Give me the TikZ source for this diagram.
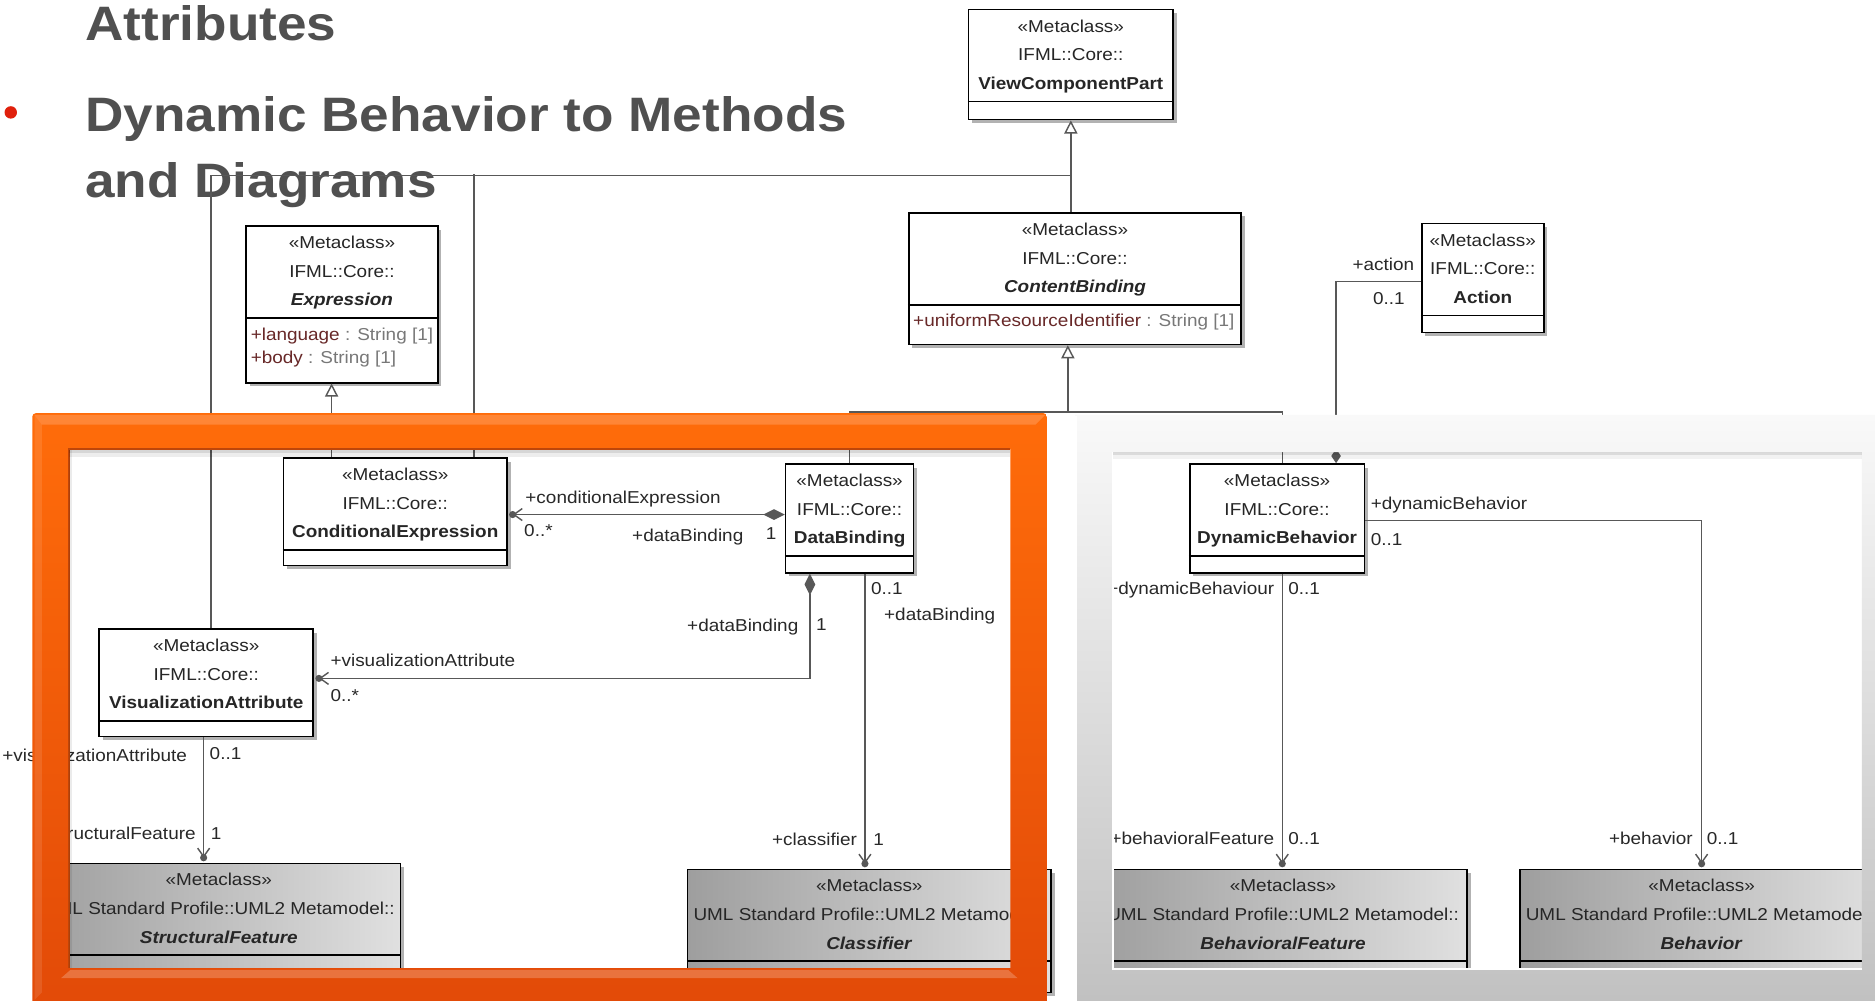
\documentclass[tikz,border=0pt]{standalone}
\usepackage{fontspec}
\setmainfont{Liberation Sans}[FakeStretch=1.1]
\usetikzlibrary{arrows.meta,calc,fit,shadows}

\definecolor{titlegray}{RGB}{80,80,80}
\definecolor{bulletred}{RGB}{224,32,12}
\definecolor{linegray}{RGB}{88,88,88}
\definecolor{labelgray}{RGB}{40,40,40}
\definecolor{attrred}{RGB}{104,40,40}
\definecolor{typegray}{RGB}{120,120,120}
\definecolor{metadark}{RGB}{158,158,158}
\definecolor{metalight}{RGB}{224,224,224}
\definecolor{orangetop}{RGB}{255,108,10}
\definecolor{orangebot}{RGB}{226,74,8}
\definecolor{orangeedge}{RGB}{190,70,10}
\definecolor{paneltop}{RGB}{249,249,249}
\definecolor{panelbot}{RGB}{192,192,192}

\tikzset{
  boxshadow/.style={drop shadow={shadow xshift=1.5pt, shadow yshift=-1.5pt, fill=black, opacity=0.3}},
  classbox/.style={draw=black, line width=0.7pt, fill=white, inner sep=0pt, boxshadow},
  metabox/.style={draw=black, line width=0.7pt, left color=metadark, right color=metalight, inner sep=0pt, boxshadow},
  umlfont/.style={font=\fontsize{7.2}{8.6}\selectfont},
  umltext/.style={umlfont, text=black!85, inner sep=0pt, anchor=base},
  rolelabel/.style={umlfont, text=labelgray, inner sep=0pt},
  titletext/.style={font=\fontsize{20.2}{24}\selectfont\bfseries, text=titlegray, inner sep=0pt, anchor=base west},
  conn/.style={draw=linegray, line width=0.6pt},
  genline/.style={conn, -{Triangle[open, length=5.5pt, width=5.5pt]}},
  navline/.style={conn, -{Straight Barb[length=3.5pt, width=5pt]}},
  compline/.style={conn, {Diamond[length=9pt, width=4.5pt]}-{Straight Barb[length=3.5pt, width=5pt]}},
  ownerdot/.style={circle, fill=linegray, inner sep=0pt, minimum size=3pt},
}

% #1 box style, #2 name, #3-#6 corners, #7 package line, #8 class name
\newcommand{\mclass}[8]{%
  \node[#1, fit={(#3,#4) (#5,#6)}] (#2) {};
  \draw[line width=0.7pt] ($(#2.north west)+(0,77.5)$) -- ($(#2.north east)+(0,77.5)$);
  \node[umltext] (#2-st) at ($(#2.north)+(0,19.5)$) {«Metaclass»};
  \node[umltext] (#2-pk) at ($(#2.north)+(0,43.5)$) {#7};
  \node[umltext] (#2-nm) at ($(#2.north)+(0,67.5)$) {#8};
}
% attribute line: name, type
\newcommand{\umlattr}[2]{\textcolor{attrred}{+#1}~\textcolor{typegray}{: #2}}

\begin{document}
\begin{tikzpicture}[x=0.5pt, y=-0.5pt]
\useasboundingbox (0,0) rectangle (1568,837);
\clip (0,0) rectangle (1568,837);
\fill[white] (0,0) rectangle (1568,837);

% slide text
\node[titletext] (title-attr) at (71,34) {Attributes};
\node[circle, fill=bulletred, inner sep=0pt, minimum size=5.2pt] (bullet) at (9,94) {};
\node[titletext] (title-dyn) at (71,110) {Dynamic Behavior to Methods};
\node[titletext] (title-diag) at (71,165) {and Diagrams};

% classes
\mclass{classbox}{vcp}{810}{8}{981}{100}{IFML::Core::}{\textbf{ViewComponentPart}}
\mclass{classbox}{expr}{206}{189}{366}{320}{IFML::Core::}{\textbf{\textit{Expression}}}
\mclass{classbox}{cb}{760}{178}{1038}{288}{IFML::Core::}{\textbf{\textit{ContentBinding}}}
\mclass{classbox}{action}{1189}{187}{1291}{278}{IFML::Core::}{\textbf{Action}}
\mclass{classbox}{ce}{237}{383}{424}{473}{IFML::Core::}{\textbf{ConditionalExpression}}
\mclass{classbox}{db}{657}{388}{764}{479}{IFML::Core::}{\textbf{DataBinding}}
\mclass{classbox}{va}{83}{526}{262}{616}{IFML::Core::}{\textbf{VisualizationAttribute}}
\mclass{classbox}{dyb}{995}{388}{1141}{479}{IFML::Core::}{\textbf{DynamicBehavior}}
\mclass{metabox}{sf}{31}{722}{335}{830}{UML Standard Profile::UML2 Metamodel::}{\textbf{\textit{StructuralFeature}}}
\mclass{metabox}{clf}{575}{727}{879}{830}{UML Standard Profile::UML2 Metamodel::}{\textbf{\textit{Classifier}}}
\mclass{metabox}{bf}{919}{727}{1227}{830}{UML Standard Profile::UML2 Metamodel::}{\textbf{\textit{BehavioralFeature}}}
\mclass{metabox}{beh}{1271}{727}{1575}{830}{UML Standard Profile::UML2 Metamodel::}{\textbf{\textit{Behavior}}}

% attributes
\node[umltext, anchor=base west] (expr-a1) at ($(expr.north west)+(4,96.5)$) {\umlattr{language}{String [1]}};
\node[umltext, anchor=base west] (expr-a2) at ($(expr.north west)+(4,116)$) {\umlattr{body}{String [1]}};
\node[umltext, anchor=base west] (cb-a1) at ($(cb.north west)+(4,95.5)$) {\umlattr{uniformResourceIdentifier}{String [1]}};

% generalizations
\coordinate (vcpjoin) at ($(vcp.south)+(0,46)$);
\coordinate (cbjoin) at ($(cb.south)+(-6,56)$);
\draw[genline] (vcp.south |- cb.north) -- (vcp.south);
\draw[conn] ($(va.north west)+(94,0)$) |- (vcpjoin);
\draw[conn] ($(ce.north west)+(160,0)$) -- ++(0,-237);
\draw[genline] ($(ce.north west)+(41,0)$) -- ($(expr.south west)+(72,0)$);
\draw[genline] (cbjoin) -- (cbjoin |- cb.south);
\draw[conn] (db.north) |- (cbjoin) -| ($(dyb.north west)+(78,0)$);

% associations
\node[ownerdot] (ce-end) at ($(ce.north east)+(4,48)$) {};
\draw[compline] ($(db.north west)+(0,43)$) -- (ce-end.center);
\node[ownerdot] (va-end) at ($(va.north east)+(4,42)$) {};
\draw[compline] ($(db.south west)+(21,0)$) |- (va-end.center);
\node[ownerdot] (clf-end) at ($(clf.north west)+(149,-4)$) {};
\draw[navline] ($(db.south west)+(67,0)$) -- (clf-end.center);
\node[ownerdot] (sf-end) at ($(sf.north west)+(140,-4)$) {};
\draw[navline] (sf-end.center |- va.south) -- (sf-end.center);
\node[ownerdot] (bf-end) at ($(bf.north west)+(154,-4)$) {};
\draw[navline] (bf-end.center |- dyb.south) -- (bf-end.center);
\node[ownerdot] (beh-end) at ($(beh.north)+(0,-4)$) {};
\draw[navline] ($(dyb.north east)+(0,48)$) -| (beh-end.center);
\draw[conn, -{Diamond[length=6pt, width=4pt]}] ($(action.north west)+(0,49)$) -| ($(dyb.north west)+(123,0)$);

% role names and multiplicities
\node[rolelabel, anchor=base west] (l-ce-role) at (439,421) {+conditionalExpression};
\node[rolelabel, anchor=base west] (l-ce-mult) at (438,449) {0..*};
\node[rolelabel, anchor=base east] (l-db1-role) at (622,453) {+dataBinding};
\node[rolelabel, anchor=base west] (l-db1-mult) at (640,451) {1};
\node[rolelabel, anchor=base east] (l-db2-role) at (668,528) {+dataBinding};
\node[rolelabel, anchor=base west] (l-db2-mult) at (682,527) {1};
\node[rolelabel, anchor=base west] (l-va-role) at (276,557) {+visualizationAttribute};
\node[rolelabel, anchor=base west] (l-va-mult) at (276,587) {0..*};
\node[rolelabel, anchor=base west] (l-db3-mult) at (728,497) {0..1};
\node[rolelabel, anchor=base west] (l-db3-role) at (739,519) {+dataBinding};
\node[rolelabel, anchor=base west] (l-va2-role) at (1.5,637) {+visualizationAttribute};
\node[rolelabel, anchor=base west] (l-va2-mult) at (175,635) {0..1};
\node[rolelabel, anchor=base east] (l-sf-role) at (164,702) {+structuralFeature};
\node[rolelabel, anchor=base west] (l-sf-mult) at (176,702) {1};
\node[rolelabel, anchor=base east] (l-clf-role) at (717,707) {+classifier};
\node[rolelabel, anchor=base west] (l-clf-mult) at (730,707) {1};
\node[rolelabel, anchor=base west] (l-dyb1-role) at (1146,426) {+dynamicBehavior};
\node[rolelabel, anchor=base west] (l-dyb1-mult) at (1146,456) {0..1};
\node[rolelabel, anchor=base east] (l-dyb2-role) at (1066,497) {+dynamicBehaviour};
\node[rolelabel, anchor=base west] (l-dyb2-mult) at (1077,497) {0..1};
\node[rolelabel, anchor=base east] (l-bf-role) at (1066,706) {+behavioralFeature};
\node[rolelabel, anchor=base west] (l-bf-mult) at (1077,706) {0..1};
\node[rolelabel, anchor=base east] (l-beh-role) at (1416,706) {+behavior};
\node[rolelabel, anchor=base west] (l-beh-mult) at (1427,706) {0..1};
\node[rolelabel, anchor=base east] (l-act-role) at (1183,226) {+action};
\node[rolelabel, anchor=base east] (l-act-mult) at (1175,255) {0..1};

% orange highlight frame with bevelled band
\shade[even odd rule, top color=orangetop, bottom color=orangebot, rounded corners=1.5pt]
  (27,345.5) rectangle (875.5,845)
  [sharp corners] (57.5,375.5) rectangle (845,809.5);
\fill[white, opacity=0.18] (29,347) -- (874,347) -- (866,355) -- (35,355) -- cycle;
\fill[white, opacity=0.10] (29,347) -- (35,355) -- (35,830) -- (29,836) -- cycle;
\fill[white, opacity=0.22] (59,811) -- (843,811) -- (851,818) -- (51,818) -- cycle;
\draw[orangeedge, line width=0.8pt] (57.5,809.5) -- (57.5,375.5) -- (845,375.5);
\fill[black, opacity=0.16] (57.5,376) rectangle (845,378.5);
\fill[black, opacity=0.07] (57.5,378.5) rectangle (845,382);
\fill[black, opacity=0.08] (58,376) rectangle (60.5,809.5);

% grey panel frame
\shade[even odd rule, top color=paneltop, bottom color=panelbot]
  (899,347) rectangle (1575,845)
  (931,378) rectangle (1557,809.5);
\draw[white, line width=0.8pt] (900,348) -- (900,837);
\draw[white, line width=0.8pt] (931,378) -- (931,810) -- (1557,810);
\fill[black, opacity=0.14] (931,378) rectangle (1557,380.5);
\fill[black, opacity=0.05] (931,380.5) rectangle (1557,384);
\end{tikzpicture}
\end{document}
